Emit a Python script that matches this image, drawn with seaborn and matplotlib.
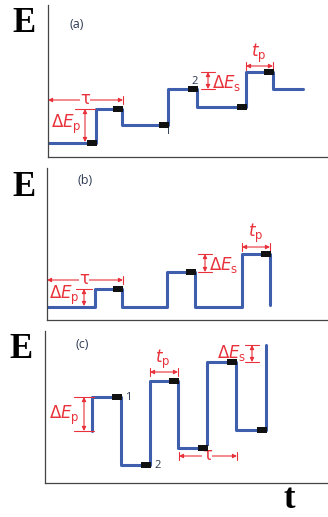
import numpy as np
import pandas as pd
import matplotlib
matplotlib.use("Agg")
import matplotlib.pyplot as plt
import seaborn as sns

# step waveforms: switching times and potential levels (units ~ px of the original)
t_a = [0, 48, 74, 120, 149, 198, 225, 255]
E_a = [14, 48, 32, 68, 50, 85, 68, 68]
t_b = [0, 48, 75, 120, 148, 195, 223]
E_b = [13, 31, 13, 48, 13, 66, 15]
t_c = [47, 47, 76, 105, 133, 162, 191, 221]
E_c = [52, 86, 18, 102, 35, 121, 53, 138]

# which segments carry a current-sampling marker
samp_a = [0, 1, 2, 3, 4, 5]
samp_b = [1, 3, 5]
samp_c = [1, 2, 3, 4, 5, 6]

panel_labels = ["(a)", "(b)", "(c)"]

blue = "#3f5fae"
red = "#e8313a"
navy = "#2e3a55"

sns.set_style("white")
plt.rcParams["mathtext.fontset"] = "dejavusans"
plt.rcParams["font.family"] = ["Open Sans", "DejaVu Sans"]

W, H = 328, 517
fig = plt.figure(figsize=(W / 100, H / 100), dpi=100)


def make_ax(left, top, bottom):
    ax = fig.add_axes([left / W, 1 - bottom / H, (W - left) / W, (bottom - top) / H])
    ax.set_xlim(0, W - left)
    ax.set_ylim(0, bottom - top)
    for s in ["top", "right"]:
        ax.spines[s].set_visible(False)
    for s in ["left", "bottom"]:
        ax.spines[s].set_color("#444444")
        ax.spines[s].set_linewidth(0.9)
    ax.set_xticks([])
    ax.set_yticks([])
    return ax


def wave(ax, t, E, samp):
    df = pd.DataFrame({"t": t, "E": E})
    sns.lineplot(data=df, x="t", y="E", ax=ax, color=blue, lw=2.2,
                 drawstyle="steps-post", sort=False, estimator=None)
    mx = [t[i + 1] - 4 for i in samp]
    my = [E[i] for i in samp]
    ax.scatter(mx, my, marker=[(-1, -0.5), (1, -0.5), (1, 0.5), (-1, 0.5)],
               s=60, color="#111111", zorder=5, linewidths=0)
    ax.set_xlabel("")
    ax.set_ylabel("")


def harrow(ax, x0, x1, y, ticks=(True, True)):
    ax.annotate("", xy=(x0, y), xytext=(x1, y),
                arrowprops=dict(arrowstyle="<|-|>", color=red, lw=0.8,
                                shrinkA=0, shrinkB=0, mutation_scale=6))
    for x, on in zip((x0, x1), ticks):
        if on:
            ax.plot([x, x], [y - 4, y + 4], color=red, lw=0.8)


def varrow(ax, x, y0, y1, w0=8, w1=8):
    ax.annotate("", xy=(x, y0), xytext=(x, y1),
                arrowprops=dict(arrowstyle="<|-|>", color=red, lw=0.8,
                                shrinkA=0, shrinkB=0, mutation_scale=6))
    if w0:
        ax.plot([x - w0, x + w0], [y0, y0], color=red, lw=0.8)
    if w1:
        ax.plot([x - w1, x + w1], [y1, y1], color=red, lw=0.8)


def rtext(ax, x, y, s, ha="center"):
    ax.text(x, y, s, color=red, fontsize=12, ha=ha, va="center")


def tau(ax, x, y):
    ax.text(x, y, "τ", color=red, fontsize=12, ha="center", va="center",
            family="DejaVu Sans", bbox=dict(fc="white", ec="none", pad=0.3))


dEp = r"$\Delta E_\mathrm{p}$"
dEs = r"$\Delta E_\mathrm{s}$"
tp = r"$t_\mathrm{p}$"

# ---- panel (a)
ax = make_ax(48, 5, 157)
wave(ax, t_a, E_a, samp_a)
harrow(ax, 0, t_a[2] + 1, 57, ticks=(False, True))
tau(ax, 37, 58)
varrow(ax, 37, E_a[0] + 1, E_a[1], w0=0, w1=10)
rtext(ax, 34, 33, dEp, ha="right")
varrow(ax, 160, E_a[3], E_a[5], w0=7, w1=7)
rtext(ax, 164, 74, dEs, ha="left")
harrow(ax, t_a[5], t_a[6], 91)
rtext(ax, 211, 104, tp)
ax.text(119, 25, "1", color=navy, fontsize=8, ha="center", va="center")
ax.text(147, 76, "2", color=navy, fontsize=8, ha="center", va="center")
ax.text(22, 133, panel_labels[0], color=navy, fontsize=9, ha="left", va="center")

# ---- panel (b)
ax = make_ax(47, 168, 320)
wave(ax, t_b, E_b, samp_b)
harrow(ax, 0, t_b[2] + 1, 40, ticks=(False, True))
tau(ax, 37, 41)
varrow(ax, 37, E_b[0] + 1, E_b[1], w0=0, w1=8)
rtext(ax, 33, 25, dEp, ha="right")
varrow(ax, 158, E_b[3], E_b[5], w0=7, w1=7)
rtext(ax, 162, 55, dEs, ha="left")
harrow(ax, t_b[5], t_b[6], 73)
rtext(ax, 209, 87, tp)
ax.text(30, 140, panel_labels[1], color=navy, fontsize=9, ha="left", va="center")

# ---- panel (c)
ax = make_ax(45, 331, 483)
wave(ax, t_c, E_c, samp_c)
varrow(ax, 39, E_c[0], E_c[1], w0=10, w1=10)
rtext(ax, 35, 68, dEp, ha="right")
harrow(ax, t_c[3], t_c[4], 111)
rtext(ax, 118, 124, tp)
harrow(ax, t_c[4] + 1, t_c[6] + 1, 27)
tau(ax, 162, 28)
varrow(ax, 207, E_c[5], E_c[7], w0=7, w1=7)
rtext(ax, 201, 130, dEs, ha="right")
ax.text(83, 85, "1", color=navy, fontsize=8, ha="center", va="center")
ax.text(113, 18, "2", color=navy, fontsize=8, ha="center", va="center")
ax.text(30, 138, panel_labels[2], color=navy, fontsize=9, ha="left", va="center")

# big axis letters
serif = dict(family="Liberation Serif", weight="bold", fontsize=25, color="black",
             ha="center", va="center")
fig.text(24 / W, 1 - 24 / H, "E", **serif)
fig.text(24 / W, 1 - 188 / H, "E", **serif)
fig.text(21 / W, 1 - 350 / H, "E", **serif)
fig.text(289 / W, 1 - 500 / H, "t", **serif)

fig.savefig("out.png", dpi=100)
